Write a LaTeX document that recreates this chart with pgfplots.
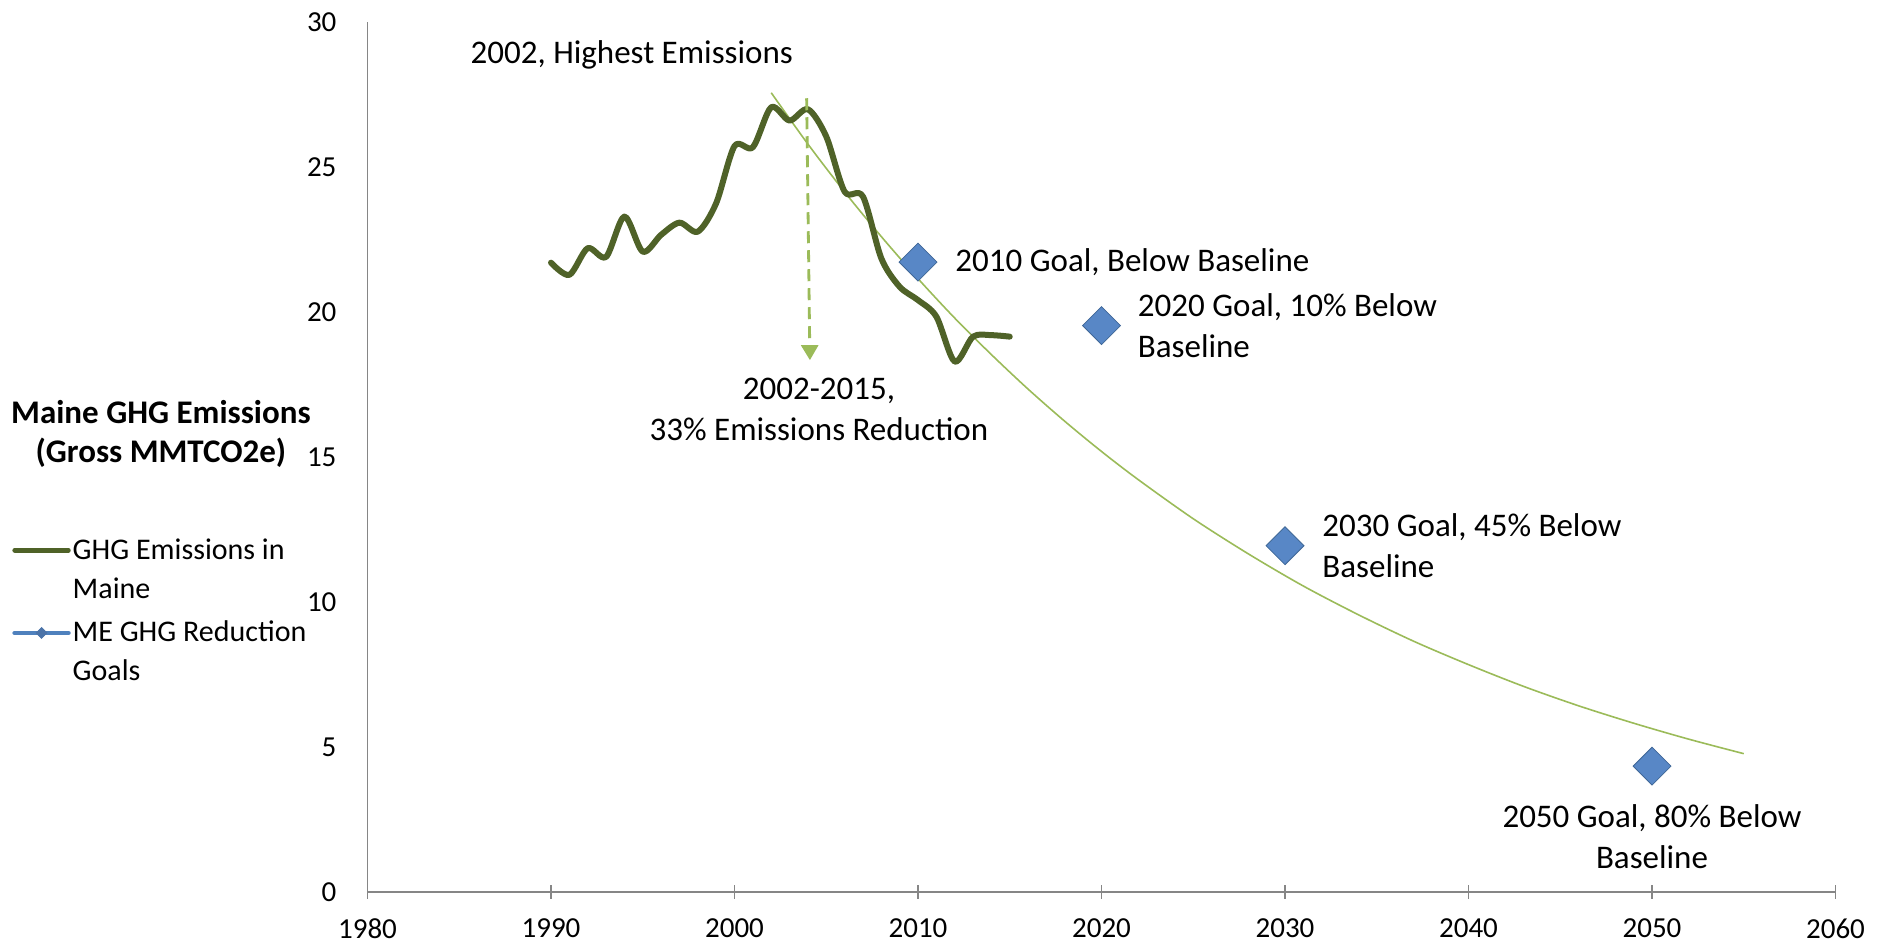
\documentclass[border=0pt]{standalone}
\usepackage{pgfplots}
\pgfplotsset{compat=1.18}
\usepackage{fontspec}
\setmainfont{Carlito}
\usetikzlibrary{arrows.meta}
\definecolor{emis}{HTML}{4F6228}
\definecolor{trend}{HTML}{9BBB59}
\definecolor{goalfill}{HTML}{5887C6}
\definecolor{goalline}{HTML}{4F81BD}
\definecolor{axgray}{HTML}{868686}
\newcommand{\anfont}{\fontsize{16.5}{20.4}\selectfont}
\begin{document}
\begin{tikzpicture}
\path[use as bounding box] (0,0) rectangle (941.5pt,472.5pt);
\begin{axis}[
  at={(183.75pt,26.5pt)}, anchor=south west,
  scale only axis, width=734pt, height=435pt,
  xmin=1980, xmax=2060, ymin=0, ymax=30,
  xtick={1980,1990,...,2060}, ytick={0,5,...,30},
  axis lines*=left,
  axis line style={axgray, line width=0.8pt},
  tick align=center, major tick length=7pt,
  xtick style={axgray, line width=0.6pt},
  ytick style={draw=none},
  x tick label style={/pgf/number format/1000 sep={}, yshift=-6.5pt},
  y tick label style={xshift=-8.5pt},
  ticklabel style={font=\fontsize{14.5}{17}\selectfont},
  /pgf/number format/assume math mode=true,
  clip=false,
  legend style={at={(axis description cs:-0.2422,0.4115)}, anchor=north west,
    draw=none, fill=none, inner sep=0pt, row sep=6pt,
    font=\fontsize{15}{19.5}\selectfont,
    nodes={inner xsep=1pt, inner ysep=2pt},
    cells={anchor=west, align=left}},
  legend cell align=left,
]
% trend line (exponential trendline)
\addplot[trend, line width=0.8pt, smooth, forget plot] coordinates {
(2002,27.56) (2004,25.79) (2006,24.14) (2008,22.60) (2010,21.15) (2012,19.79)
(2014,18.53) (2016,17.34) (2018,16.23) (2020,15.19) (2022,14.22) (2025,12.87)
(2028,11.66) (2031,10.55) (2034,9.56) (2037,8.65) (2040,7.84) (2043,7.09)
(2046,6.42) (2049,5.82) (2052,5.27) (2055,4.77)};
% emissions
\addplot[emis, line width=3pt, line cap=round, line join=round, smooth, tension=0.5,
  legend image code/.code={
    \path[draw=none, fill=none] (0pt,-11.1pt) -- (0pt,11.1pt);
    \draw[emis, line width=2.4pt, line cap=round] (1.2pt,9.75pt) -- (28pt,9.75pt);}]
coordinates {
(1990,21.70) (1991,21.28) (1992,22.20) (1993,21.90) (1994,23.29) (1995,22.08)
(1996,22.66) (1997,23.08) (1998,22.77) (1999,23.75) (2000,25.72) (2001,25.68)
(2002,27.06) (2003,26.60) (2004,26.99) (2005,26.05) (2006,24.15) (2007,23.98)
(2008,21.85) (2009,20.87) (2010,20.41) (2011,19.84) (2012,18.29) (2013,19.15)
(2014,19.20) (2015,19.15)};
\addlegendentry{GHG Emissions in\\Maine}
% goals
\addplot[only marks, mark=square*, mark size=6.7pt,
  mark options={rotate=45, fill=goalfill, draw=goalline!80!black, line width=0.4pt},
  legend image code/.code={
    \path[draw=none, fill=none] (0pt,-11.1pt) -- (0pt,11.1pt);
    \draw[goalline, line width=2.4pt, line cap=round] (1.2pt,9.75pt) -- (28pt,9.75pt);
    \draw[mark=square*, mark size=1.9pt, mark options={rotate=45, fill=goalfill!85!black, draw=goalfill!85!black}] plot coordinates {(14.6pt,9.75pt)};}]
coordinates {(2010,21.72) (2020,19.53) (2030,11.94) (2050,4.34)};
\addlegendentry{ME GHG Reduction\\Goals}
% arrow
\draw[trend, line width=1.4pt, dash pattern=on 6pt off 3.5pt, -{Triangle[width=8.5pt,length=7.5pt]}]
  (axis cs:2003.93,27.37) -- (axis cs:2004.11,18.34);
% annotations
\node[font=\anfont, inner sep=0pt] at (axis cs:1994.4,28.88) {2002, Highest Emissions};
\node[font=\anfont, inner sep=0pt, align=center] at (axis cs:2004.6,16.63) {2002-2015,\\33\% Emissions Reduction};
\node[font=\anfont, inner sep=0pt, anchor=west, xshift=18.5pt] at (axis cs:2010,21.72) {2010 Goal, Below Baseline};
\node[font=\anfont, inner sep=0pt, anchor=west, align=left, xshift=18pt] at (axis cs:2020,19.53) {2020 Goal, 10\% Below\\Baseline};
\node[font=\anfont, inner sep=0pt, anchor=west, align=left, xshift=18.5pt] at (axis cs:2030,11.94) {2030 Goal, 45\% Below\\Baseline};
\node[font=\anfont, inner sep=0pt, anchor=north, align=center, yshift=-19pt] at (axis cs:2050,4.34) {2050 Goal, 80\% Below\\Baseline};
% y label
\node[font=\bfseries\fontsize{16.5}{19.5}\selectfont, align=center, inner sep=0pt] at (axis description cs:-0.1407,0.527) {Maine GHG Emissions\\(Gross MMTCO2e)};
\end{axis}
\end{tikzpicture}
\end{document}
